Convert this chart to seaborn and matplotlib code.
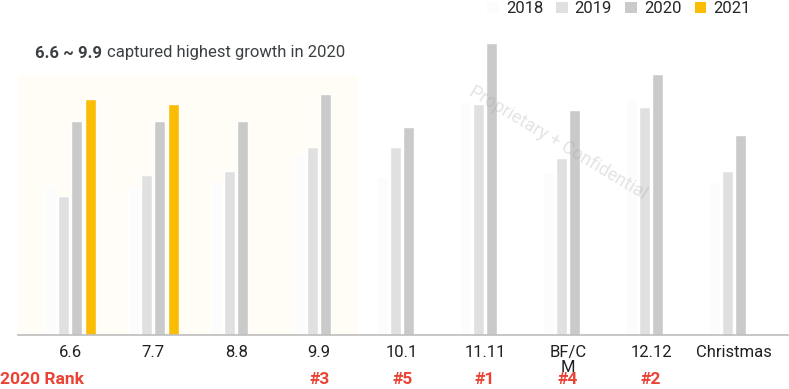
import pandas as pd
import matplotlib.pyplot as plt
import matplotlib.transforms as mtransforms
from matplotlib.patches import Patch
import seaborn as sns

# 数据（从图上估读，单位为相对高度）
events = ["6.6", "7.7", "8.8", "9.9", "10.1", "11.11", "BF/CM", "12.12", "Christmas"]
tick_labels = ["6.6", "7.7", "8.8", "9.9", "10.1", "11.11", "BF/C\nM", "12.12", "Christmas"]
years = ["2018", "2019", "2020", "2021"]
v2018 = [150, 147, 152, 180, 158, 233, 163, 235, 153]
v2019 = [139, 160, 164, 188, 188, 231, 177, 228, 164]
v2020 = [214, 214, 214, 241, 208, 292, 225, 261, 200]
v2021 = [236, 231, None, None, None, None, None, None, None]
ranks = ["", "", "", "#3", "#5", "#1", "#4", "#2", ""]

colors = ["#fcfcfc", "#e0e0e0", "#cacaca", "#fbbc04"]

rows = []
for yr, vals in zip(years, [v2018, v2019, v2020, v2021]):
    for ev, v in zip(events, vals):
        rows.append({"event": ev, "year": yr, "value": v})
df = pd.DataFrame(rows)

sns.set_style("white")
plt.rcParams["font.family"] = ["Roboto", "DejaVu Sans"]

fig = plt.figure(figsize=(7.89, 3.89), dpi=100)
W, H = 789, 389
ax = fig.add_axes([18 / W, 1 - 335 / H, 770 / W, 305 / H])

# 6.6 ~ 9.9 高亮背景
ax.axvspan(-0.63, 3.47, ymax=260 / 305, color="#fffdf6", zorder=0, lw=0)

sns.barplot(data=df, x="event", y="value", hue="year", order=events,
            hue_order=years, palette=colors, saturation=1, width=0.64,
            gap=0.16, legend=False, ax=ax, zorder=2)

ax.set_xlim(-0.63, 8.65)
ax.set_ylim(0, 305)
ax.set_xlabel("")
ax.set_ylabel("")
ax.set_yticks([])
ax.set_xticks(range(len(events)))
ax.set_xticklabels(tick_labels, fontsize=12, color="#202124", va="top",
                   linespacing=1.0)
ax.tick_params(axis="x", length=0, pad=7)
for s in ["top", "right", "left"]:
    ax.spines[s].set_visible(False)
ax.spines["bottom"].set_color("#bdbdbd")
ax.spines["bottom"].set_linewidth(1.2)
ax.spines["bottom"].set_zorder(3)

# 水印
fig.text(558 / W, 1 - 143 / H, "Proprietary + Confidential", rotation=-31,
         fontsize=13, color="#9e9e9e", alpha=0.28, ha="center", va="center",
         zorder=5)

# 标题
fig.text(35 / W, 1 - 53 / H, "6.6 ~ 9.9", fontsize=12, fontweight="bold",
         color="#3c4043", va="center")
fig.text(107 / W, 1 - 53 / H, "captured highest growth in 2020", fontsize=12,
         color="#3c4043", va="center")

# 2020 排名
trans = mtransforms.blended_transform_factory(ax.transData, fig.transFigure)
fig.text(0, 1 - 380 / H, "2020 Rank", fontsize=12.5, fontweight="bold",
         color="#ea4335", va="center")
for i, r in enumerate(ranks):
    if r:
        ax.text(i, 1 - 380 / H, r, transform=trans, fontsize=12.5,
                fontweight="bold", color="#ea4335", ha="center", va="center")

# 图例
handles = [Patch(facecolor=c, edgecolor="none") for c in colors]
fig.legend(handles, years, loc="upper right", bbox_to_anchor=(0.97, 1.035),
           ncol=4, frameon=False, fontsize=12, handlelength=0.7,
           handleheight=0.7, handletextpad=0.4, columnspacing=0.8)

fig.savefig("out.png", dpi=100)
